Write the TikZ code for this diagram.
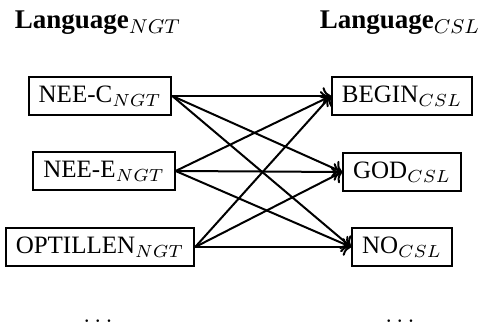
\documentclass[tikz,border=0pt]{standalone}
\usepackage{fontspec}
\setmainfont{Liberation Serif}
\usetikzlibrary{arrows.meta,positioning}

\begin{document}
\begin{tikzpicture}[
    x=0.4pt, y=-0.4pt,
    every node/.style={font=\normalsize},
    word/.style={
        rectangle,
        draw=black,
        thick,
        inner xsep=4pt,
        inner ysep=3.5pt
    },
    title/.style={font=\fontsize{10.8}{13}\selectfont\bfseries},
    map/.style={->, thick}
]
\useasboundingbox (0,0) rectangle (480,331);

% Column headings
\node[title] (head-ngt) at (98,23)  {Language$_{NGT}$};
\node[title] (head-csl) at (400,23) {Language$_{CSL}$};

% Left column: NGT signs
\node[word] (neec)     at (100,96)  {NEE-C$_{NGT}$};
\node[word] (neee)     at (104,171) {NEE-E$_{NGT}$};
\node[word] (optillen) at (100,247) {OPTILLEN$_{NGT}$};

% Right column: CSL signs
\node[word] (begin) at (402,96)  {BEGIN$_{CSL}$};
\node[word] (god)   at (402,172) {GOD$_{CSL}$};
\node[word] (no)    at (402,247) {NO$_{CSL}$};

% Every NGT sign maps to every CSL sign
\foreach \src in {neec,neee,optillen}
    \foreach \dst in {begin,god,no}
        \draw[map] (\src.east) -- (\dst.west);

% Continuation
\node (dots-ngt) at (98,321)  {$\ldots$};
\node (dots-csl) at (400,321) {$\ldots$};

\end{tikzpicture}
\end{document}
